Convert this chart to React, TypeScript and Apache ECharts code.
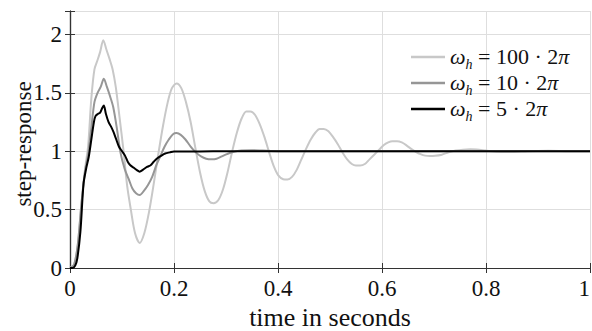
import React, { useEffect, useRef } from "react";
import * as echarts from "echarts";

// ---- data ----
const seriesNames = ["ω_h = 100 · 2π", "ω_h = 10 · 2π", "ω_h = 5 · 2π"];
const seriesColors = ["#c8c8c8", "#969696", "#000000"];

const tLight = [0, 0.008, 0.015, 0.022, 0.029, 0.035, 0.041, 0.047, 0.053, 0.058, 0.064, 0.07, 0.076, 0.082, 0.088, 0.095, 0.103, 0.11, 0.117, 0.125, 0.134, 0.143, 0.152, 0.161, 0.17, 0.179, 0.188, 0.196, 0.205, 0.214, 0.223, 0.232, 0.241, 0.25, 0.259, 0.268, 0.276, 0.285, 0.294, 0.303, 0.312, 0.321, 0.33, 0.339, 0.347, 0.356, 0.365, 0.374, 0.383, 0.392, 0.401, 0.41, 0.418, 0.427, 0.436, 0.445, 0.454, 0.463, 0.472, 0.48, 0.488, 0.497, 0.506, 0.515, 0.524, 0.533, 0.542, 0.55, 0.558, 0.567, 0.576, 0.585, 0.594, 0.603, 0.612, 0.62, 0.629, 0.638, 0.647, 0.656, 0.665, 0.674, 0.683, 0.692, 0.702, 0.715, 0.728, 0.742, 0.756, 0.77, 0.782, 0.8, 0.82, 0.85, 0.88, 0.92, 0.96, 1.0];
const yLight = [0, 0.03, 0.2, 0.55, 0.85, 1.05, 1.45, 1.7, 1.78, 1.85, 1.95, 1.87, 1.79, 1.7, 1.55, 1.3, 1.0, 0.7, 0.5, 0.3, 0.215, 0.3, 0.48, 0.72, 0.98, 1.22, 1.42, 1.54, 1.58, 1.54, 1.42, 1.25, 1.03, 0.82, 0.66, 0.57, 0.555, 0.58, 0.67, 0.82, 1.0, 1.16, 1.28, 1.34, 1.34, 1.31, 1.23, 1.12, 0.99, 0.87, 0.79, 0.76, 0.757, 0.78, 0.84, 0.93, 1.02, 1.1, 1.16, 1.19, 1.19, 1.17, 1.12, 1.06, 0.99, 0.93, 0.89, 0.877, 0.877, 0.89, 0.93, 0.97, 1.01, 1.05, 1.075, 1.085, 1.085, 1.075, 1.05, 1.02, 0.995, 0.975, 0.962, 0.958, 0.96, 0.97, 0.99, 1.005, 1.013, 1.016, 1.015, 1.005, 0.995, 0.993, 1.0, 1.003, 1.0, 1.0];

const tMid = [0, 0.008, 0.015, 0.022, 0.029, 0.035, 0.041, 0.047, 0.053, 0.059, 0.065, 0.071, 0.077, 0.083, 0.09, 0.097, 0.105, 0.113, 0.12, 0.127, 0.134, 0.142, 0.15, 0.158, 0.166, 0.174, 0.182, 0.19, 0.198, 0.205, 0.213, 0.222, 0.232, 0.242, 0.252, 0.262, 0.272, 0.282, 0.292, 0.302, 0.315, 0.33, 0.35, 0.37, 0.4, 0.5, 0.7, 1.0];
const yMid = [0, 0.03, 0.2, 0.55, 0.83, 0.98, 1.2, 1.42, 1.5, 1.55, 1.62, 1.55, 1.47, 1.38, 1.2, 0.99, 0.85, 0.76, 0.68, 0.64, 0.625, 0.66, 0.71, 0.78, 0.88, 0.96, 1.04, 1.1, 1.145, 1.155, 1.14, 1.1, 1.04, 0.99, 0.955, 0.935, 0.93, 0.935, 0.955, 0.975, 0.995, 1.005, 1.008, 1.005, 1.0, 1.0, 1.0, 1.0];

const tDark = [0, 0.005, 0.01, 0.014, 0.02, 0.026, 0.031, 0.036, 0.041, 0.046, 0.049, 0.054, 0.058, 0.062, 0.065, 0.069, 0.074, 0.079, 0.084, 0.089, 0.094, 0.1, 0.106, 0.111, 0.116, 0.122, 0.128, 0.134, 0.14, 0.148, 0.155, 0.161, 0.168, 0.175, 0.183, 0.192, 0.2, 0.25, 0.3, 0.4, 0.6, 0.8, 1.0];
const yDark = [0, 0.0, 0.02, 0.08, 0.31, 0.72, 0.85, 0.95, 1.1, 1.25, 1.3, 1.32, 1.33, 1.37, 1.39, 1.32, 1.25, 1.21, 1.16, 1.1, 1.04, 1.0, 0.96, 0.91, 0.88, 0.86, 0.84, 0.825, 0.84, 0.865, 0.88, 0.91, 0.94, 0.96, 0.98, 0.99, 0.998, 0.998, 1.0, 1.0, 1.0, 1.0, 1.0];

const xTicks = [0, 0.2, 0.4, 0.6, 0.8, 1];
const yTicks = [0, 0.5, 1, 1.5, 2];
const yTitle = "step-response";
const xTitle = "time in seconds";

const FONT = "Liberation Serif";

const legendRich: Record<string, string> = {
  "ω_h = 100 · 2π": "{w|ω}{s|h}{n| = 100 · 2}{w|π}",
  "ω_h = 10 · 2π": "{w|ω}{s|h}{n| = 10 · 2}{w|π}",
  "ω_h = 5 · 2π": "{w|ω}{s|h}{n| = 5 · 2}{w|π}",
};

export default function App() {
  const ref = useRef<HTMLDivElement>(null);
  useEffect(() => {
    if (!ref.current) return;
    const chart = echarts.init(ref.current, null, { renderer: "svg" });
    const pairs = [
      [tLight, yLight],
      [tMid, yMid],
      [tDark, yDark],
    ];
    const axisColor = "#333333";
    const fmtX = (v: number) => (xTicks.some((t) => Math.abs(t - v) < 1e-6) ? String(v) : "");
    const fmtY = (v: number) => (yTicks.some((t) => Math.abs(t - v) < 1e-6) ? String(v) : "");
    chart.setOption({
      animation: false,
      grid: { left: 70, right: 2, top: 11, bottom: 63, containLabel: false, outerBoundsMode: "none" },
      graphic: [
        {
          type: "text",
          x: 23.5,
          y: 144,
          rotation: Math.PI / 2,
          style: {
            text: yTitle,
            fontFamily: FONT,
            fontSize: 23,
            fill: "#111",
            align: "center",
            verticalAlign: "middle",
          },
        },
      ],
      xAxis: [
        {
          type: "value",
          min: 0,
          max: 1,
          interval: 0.2,
          position: "bottom",
          axisLine: { show: true, lineStyle: { color: axisColor, width: 1.2 } },
          axisTick: { show: true, inside: true, length: 5, lineStyle: { color: axisColor } },
          axisLabel: {
            fontFamily: FONT,
            fontSize: 23,
            color: "#111",
            margin: 9,
            formatter: fmtX,
            hideOverlap: false,
            alignMaxLabel: "right",
          },
          splitLine: { show: true, lineStyle: { color: "#dedede", width: 1 } },
          name: xTitle,
          nameLocation: "middle",
          nameGap: 33,
          nameTextStyle: { fontFamily: FONT, fontSize: 26, color: "#111" },
        },
        {
          type: "value",
          min: 0,
          max: 1,
          interval: 0.2,
          position: "top",
          axisLine: { show: true, lineStyle: { color: axisColor, width: 1.2 } },
          axisTick: { show: true, inside: true, length: 5, lineStyle: { color: axisColor } },
          axisLabel: { show: false },
          splitLine: { show: false },
        },
      ],
      yAxis: [
        {
          type: "value",
          min: 0,
          max: 2.2,
          interval: 0.5,
          position: "left",
          axisLine: { show: true, lineStyle: { color: axisColor, width: 1.2 } },
          axisTick: { show: true, inside: true, length: 5, lineStyle: { color: axisColor } },
          axisLabel: { fontFamily: FONT, fontSize: 23, color: "#111", margin: 8, formatter: fmtY },
          splitLine: { show: true, lineStyle: { color: "#dedede", width: 1 } },
        },
        {
          type: "value",
          min: 0,
          max: 2.2,
          interval: 0.5,
          position: "right",
          axisLine: { show: true, lineStyle: { color: axisColor, width: 1.2 } },
          axisTick: { show: true, inside: true, length: 5, lineStyle: { color: axisColor } },
          axisLabel: { show: false },
          splitLine: { show: false },
        },
      ],
      legend: {
        orient: "vertical",
        left: 406,
        top: 40,
        itemWidth: 34,
        itemHeight: 2.5,
        itemGap: 0,
        icon: "rect",
        data: seriesNames,
        formatter: (name: string) => legendRich[name] || name,
        textStyle: {
          fontFamily: FONT,
          fontSize: 22,
          color: "#111",
          rich: {
            w: { fontFamily: FONT, fontSize: 22, lineHeight: 24, fontStyle: "italic", color: "#111", verticalAlign: "top" },
            s: {
              fontFamily: FONT,
              fontSize: 14,
              lineHeight: 14,
              fontStyle: "italic",
              color: "#111",
              verticalAlign: "top",
              padding: [12, 0, 0, 0],
            },
            n: { fontFamily: FONT, fontSize: 22, lineHeight: 24, color: "#111", verticalAlign: "top" },
          },
        },
      },
      series: seriesNames.map((name, i) => ({
        name,
        type: "line",
        xAxisIndex: 0,
        yAxisIndex: 0,
        data: pairs[i][0].map((t, k) => [t, pairs[i][1][k]]),
        showSymbol: false,
        symbol: "none",
        smooth: 0.3,
        lineStyle: { color: seriesColors[i], width: 2 },
        itemStyle: { color: seriesColors[i] },
        z: 2 + i,
      })),
    });
    return () => chart.dispose();
  }, []);
  return (
    <div
      ref={ref}
      style={{ position: "fixed", left: 0, top: 0, width: 592, height: 331, background: "#fff" }}
    />
  );
}
